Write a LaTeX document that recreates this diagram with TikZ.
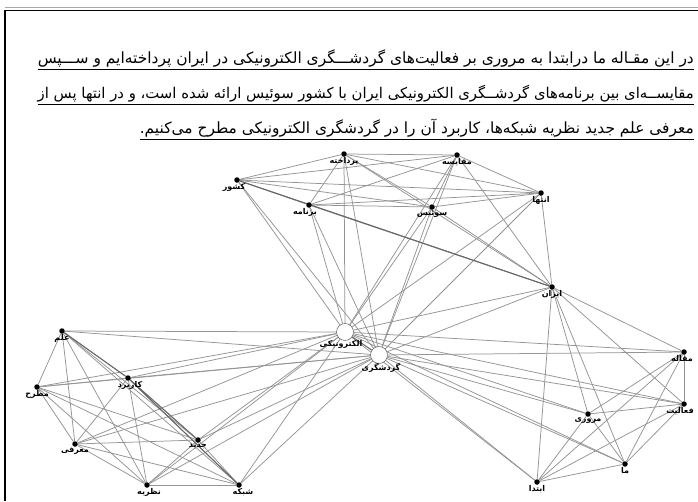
\documentclass[tikz,border=0pt]{standalone}
\usepackage{graphicx}
\usepackage{fontspec}
\usepackage{tikz}
\usetikzlibrary{backgrounds}
\newfontfamily\farsi[Script=Arabic]{DejaVu Sans}
\TeXXeTstate=1
\newcommand{\fa}[1]{{\farsi\beginR#1\endR}}

\begin{document}
\begin{tikzpicture}[
  x=1pt, y=-1pt,
  dot/.style={circle, fill=black, inner sep=0pt, minimum size=5.5pt},
  hub/.style={circle, draw=black!75, fill=white, inner sep=0pt, minimum size=17pt},
  every label/.style={font=\fontsize{8}{9}\selectfont\bfseries, inner sep=0.6pt},
  edge/.style={draw=black!42, line width=0.75pt},
  heavy/.style={draw=black!60, line width=1pt},
  para/.style={anchor=south east, inner sep=0pt, font=\fontsize{14}{16}\selectfont}
]
  \useasboundingbox (0,0) rectangle (698,501);
  % frame
  \draw[black!35, line width=0.6pt] (5,7.5) -- (698,7.5);
  \draw[line width=1.6pt] (5,501) -- (5,10.5) -- (698,10.5);

  % abstract text
  \node[para] (line1) at (694,67) {\resizebox{656pt}{!}{\fa{در این مقـاله ما درابتدا  به مروری بر فعالیت‌های گردشـــگری الکترونیکی در ایران پرداخته‌ایم و ســـپس}}};
  \node[para] (line2) at (694,102) {\resizebox{656pt}{!}{\fa{مقایســه‌ای بین برنامه‌های گردشــگری الکترونیکی ایران با کشور سوئیس ارائه شده است، و در انتها پس از}}};
  \node[para] (line3) at (694,137) {\resizebox{554pt}{!}{\fa{معرفی علم جدید نظریه شبکه‌ها، کاربرد آن را در گردشگری الکترونیکی مطرح می‌کنیم.}}};
  \draw ([yshift=-2pt]line1.south west) -- ([yshift=-2pt]line1.south east);
  \draw ([yshift=-2pt]line2.south west) -- ([yshift=-2pt]line2.south east);
  \draw ([yshift=-2pt]line3.south west) -- ([yshift=-2pt]line3.south east);

  % top group
  \node[dot, label=below:\fa{پرداخته}] (pardakht) at (344,154) {};
  \node[dot, label=below:\fa{مقایسه}] (moghayese) at (457,155) {};
  \node[dot, label={[xshift=-3pt]below:\fa{کشور}}] (keshvar) at (237,180) {};
  \node[dot, label={[xshift=-4pt]below:\fa{برنامه}}] (barname) at (309,205) {};
  \node[dot, label=below:\fa{سوئیس}] (swiss) at (432,207) {};
  \node[dot, label=below:\fa{انتها}] (enteha) at (541,193) {};
  \node[dot, label=below:\fa{ایران}] (iran) at (552,287) {};

  % hubs
  \node[hub, label={[xshift=-4pt, yshift=1pt]below:\fa{الکترونیکی}}] (elec) at (345,332) {};
  \node[hub, label={[xshift=2pt, yshift=1pt]below:\fa{گردشگری}}] (gardesh) at (379,355) {};

  % left group
  \node[dot, label=below:\fa{علم}] (elm) at (62,331) {};
  \node[dot, label=below:\fa{مطرح}] (matrah) at (37,387) {};
  \node[dot, label={[xshift=2pt]below:\fa{کاربرد}}] (karbord) at (128,378) {};
  \node[dot, label=below:\fa{معرفی}] (moarefi) at (75,444) {};
  \node[dot, label=below:\fa{جدید}] (jadid) at (198,440) {};
  \node[dot, label={[xshift=2pt]below:\fa{نظریه}}] (nazarie) at (147,485) {};
  \node[dot, label={[xshift=4pt]below:\fa{شبکه}}] (shabake) at (239,485) {};

  % right group
  \node[dot, label={[xshift=-2pt]below:\fa{مقاله}}] (maghale) at (684,352) {};
  \node[dot, label={[xshift=-4pt]below:\fa{فعالیت}}] (faaliat) at (684,404) {};
  \node[dot, label=below:\fa{مروری}] (moruri) at (588,414) {};
  \node[dot, label=below:\fa{ما}] (ma) at (625,464) {};
  \node[dot, label=below:\fa{ابتدا}] (ebteda) at (537,482) {};

  \begin{scope}[on background layer]
    % each group is fully linked
    \foreach \grp in {{pardakht,moghayese,keshvar,barname,swiss,enteha,iran},
                      {iran,maghale,faaliat,moruri,ma,ebteda},
                      {elm,matrah,karbord,moarefi,jadid,nazarie,shabake}}{
      \foreach \a [count=\i] in \grp {
        \foreach \b [count=\j] in \grp {
          \ifnum\i<\j \draw[edge] (\a) -- (\b); \fi
        }
      }
    }
    % the two hubs reach every word
    \foreach \n in {pardakht,moghayese,keshvar,barname,swiss,enteha,iran,
                    maghale,faaliat,moruri,ma,ebteda,
                    elm,matrah,karbord,moarefi,jadid,nazarie,shabake}{
      \draw[edge] (elec) -- (\n);
      \draw[edge] (gardesh) -- (\n);
    }
    \draw[heavy] (elec) -- (gardesh);
    \draw[heavy] (keshvar) -- (iran);
    \draw[heavy] (elm) -- (karbord);
    \draw[heavy] (karbord) -- (jadid);
    \draw[heavy] (karbord) -- (shabake);
  \end{scope}
\end{tikzpicture}
\end{document}
